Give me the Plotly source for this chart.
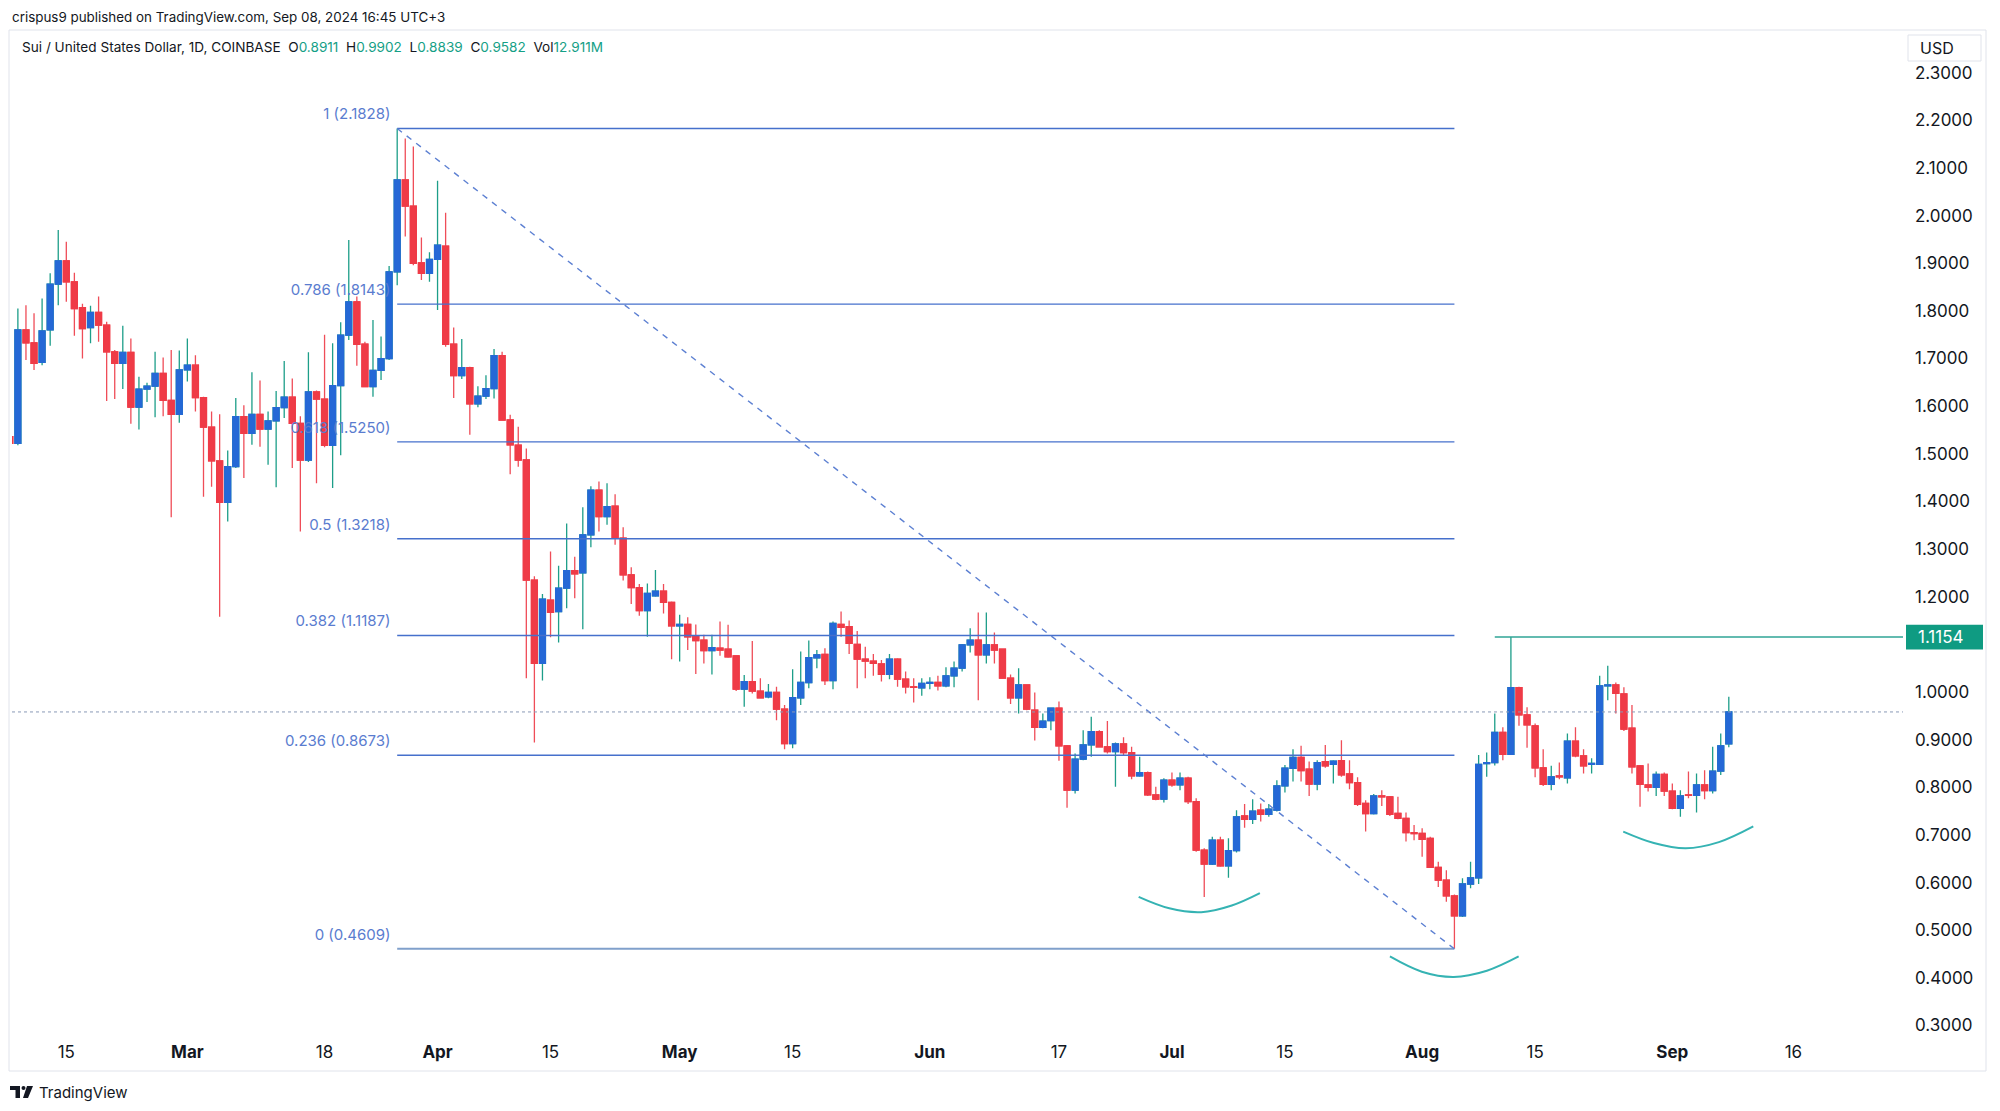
import pandas as pd
import plotly.graph_objects as go

# ---------------- data (daily OHLC, SUI/USD, Coinbase) ----------------
DATES = pd.date_range("2024-02-08", "2024-09-08", freq="D")

OPEN = [
    # Feb 8-29
    1.536, 1.522, 1.760, 1.733, 1.692, 1.760, 1.856, 1.905, 1.861, 1.807, 1.765, 1.797, 1.770, 1.714, 1.690, 1.713,
    1.598, 1.636, 1.642, 1.669, 1.612, 1.583,
    # Mar
    1.676, 1.686, 1.618, 1.556, 1.485, 1.398, 1.473, 1.578, 1.543, 1.583, 1.552, 1.569, 1.597, 1.619, 1.564, 1.487,
    1.630, 1.615, 1.518, 1.643, 1.749, 1.819, 1.730, 1.641, 1.675, 1.700, 1.882, 2.075, 2.020, 1.901, 1.879,
    # Apr
    1.908, 1.936, 1.730, 1.664, 1.681, 1.605, 1.621, 1.637, 1.706, 1.571, 1.518, 1.487, 1.235, 1.060, 1.193, 1.169,
    1.218, 1.255, 1.250, 1.330, 1.424, 1.368, 1.390, 1.323, 1.246, 1.219, 1.171, 1.202, 1.212, 1.188,
    # May
    1.139, 1.142, 1.118, 1.109, 1.087, 1.092, 1.090, 1.076, 1.006, 1.022, 1.002, 0.990, 0.999, 0.964, 0.892, 0.988,
    1.020, 1.072, 1.079, 1.024, 1.142, 1.137, 1.100, 1.069, 1.065, 1.059, 1.037, 1.069, 1.027, 1.011, 1.009,
    # Jun
    1.018, 1.020, 1.013, 1.034, 1.050, 1.099, 1.109, 1.078, 1.099, 1.090, 1.029, 0.988, 1.015, 0.962, 0.926, 0.940,
    0.966, 0.887, 0.794, 0.859, 0.889, 0.917, 0.885, 0.875, 0.891, 0.873, 0.824, 0.831, 0.784, 0.775,
    # Jul
    0.815, 0.805, 0.819, 0.770, 0.668, 0.639, 0.689, 0.635, 0.667, 0.740, 0.733, 0.752, 0.743, 0.752, 0.803, 0.840,
    0.863, 0.838, 0.807, 0.854, 0.848, 0.856, 0.828, 0.810, 0.766, 0.745, 0.782, 0.780, 0.745, 0.735, 0.705,
    # Aug
    0.703, 0.693, 0.632, 0.605, 0.572, 0.530, 0.597, 0.610, 0.850, 0.852, 0.915, 0.869, 1.009, 0.952, 0.929, 0.841,
    0.806, 0.824, 0.820, 0.897, 0.866, 0.848, 0.848, 1.013, 1.015, 0.996, 0.924, 0.845, 0.805, 0.800, 0.827,
    # Sep 1-8
    0.792, 0.756, 0.784, 0.783, 0.805, 0.793, 0.834, 0.8911,
]
HIGH = [
    1.540, 1.805, 1.812, 1.795, 1.826, 1.879, 1.970, 1.945, 1.880, 1.815, 1.811, 1.830, 1.777, 1.718, 1.769, 1.742,
    1.662, 1.649, 1.714, 1.702, 1.718, 1.717,
    1.742, 1.707, 1.620, 1.589, 1.583, 1.507, 1.617, 1.602, 1.671, 1.654, 1.589, 1.632, 1.695, 1.658, 1.579, 1.713,
    1.633, 1.750, 1.732, 1.776, 1.949, 1.830, 1.735, 1.781, 1.746, 1.894, 2.1828, 2.162, 2.145, 1.954, 1.923,
    2.073, 2.006, 1.765, 1.741, 1.683, 1.642, 1.665, 1.720, 1.714, 1.582, 1.557, 1.511, 1.243, 1.206, 1.295, 1.265,
    1.354, 1.284, 1.388, 1.432, 1.442, 1.438, 1.415, 1.346, 1.262, 1.227, 1.228, 1.256, 1.227, 1.190,
    1.162, 1.157, 1.142, 1.120, 1.120, 1.148, 1.141, 1.076, 1.036, 1.107, 1.029, 1.017, 1.011, 0.973, 1.048, 1.085,
    1.108, 1.088, 1.092, 1.148, 1.169, 1.150, 1.128, 1.095, 1.080, 1.067, 1.080, 1.071, 1.043, 1.029, 1.029,
    1.031, 1.034, 1.052, 1.064, 1.101, 1.134, 1.167, 1.167, 1.125, 1.090, 1.037, 1.050, 1.015, 0.999, 0.955, 0.966,
    0.980, 0.889, 0.871, 0.920, 0.948, 0.920, 0.939, 0.894, 0.905, 0.885, 0.864, 0.833, 0.801, 0.819,
    0.831, 0.831, 0.822, 0.777, 0.672, 0.696, 0.696, 0.693, 0.752, 0.765, 0.775, 0.766, 0.765, 0.815, 0.847, 0.880,
    0.887, 0.854, 0.857, 0.889, 0.857, 0.899, 0.857, 0.821, 0.773, 0.786, 0.794, 0.782, 0.780, 0.747, 0.721,
    0.714, 0.696, 0.644, 0.626, 0.575, 0.609, 0.644, 0.868, 0.873, 0.955, 0.926, 1.1154, 1.011, 0.968, 0.934, 0.880,
    0.845, 0.852, 0.913, 0.926, 0.880, 0.861, 1.034, 1.055, 1.020, 1.010, 0.973, 0.847, 0.850, 0.833, 0.831,
    0.808, 0.794, 0.833, 0.829, 0.836, 0.885, 0.913, 0.9902,
]
LOW = [
    1.518, 1.518, 1.697, 1.676, 1.686, 1.727, 1.812, 1.819, 1.748, 1.700, 1.732, 1.735, 1.611, 1.615, 1.636, 1.563,
    1.551, 1.609, 1.577, 1.579, 1.367, 1.565,
    1.652, 1.589, 1.410, 1.431, 1.158, 1.358, 1.470, 1.449, 1.519, 1.515, 1.477, 1.430, 1.575, 1.470, 1.337, 1.483,
    1.438, 1.514, 1.428, 1.497, 1.739, 1.685, 1.641, 1.620, 1.655, 1.697, 1.854, 1.956, 1.896, 1.865, 1.861,
    1.802, 1.725, 1.617, 1.657, 1.540, 1.598, 1.615, 1.616, 1.571, 1.457, 1.473, 1.029, 0.894, 1.024, 1.115, 1.104,
    1.176, 1.197, 1.132, 1.304, 1.337, 1.351, 1.309, 1.234, 1.185, 1.160, 1.116, 1.200, 1.165, 1.069,
    1.064, 1.088, 1.038, 1.060, 1.037, 1.076, 1.072, 1.002, 0.969, 0.997, 0.987, 0.987, 0.941, 0.880, 0.882, 0.973,
    1.008, 1.050, 1.015, 1.006, 1.116, 1.080, 1.008, 1.029, 1.034, 1.022, 1.027, 1.011, 0.997, 0.978, 0.992,
    1.006, 1.003, 1.010, 1.010, 1.043, 1.083, 0.983, 1.060, 1.060, 1.029, 0.975, 0.955, 0.962, 0.898, 0.924, 0.920,
    0.856, 0.757, 0.787, 0.857, 0.864, 0.884, 0.871, 0.801, 0.866, 0.817, 0.822, 0.782, 0.773, 0.768,
    0.801, 0.794, 0.765, 0.665, 0.570, 0.637, 0.633, 0.610, 0.663, 0.715, 0.723, 0.728, 0.738, 0.749, 0.789, 0.812,
    0.812, 0.782, 0.794, 0.841, 0.808, 0.822, 0.796, 0.761, 0.707, 0.743, 0.761, 0.740, 0.733, 0.686, 0.689,
    0.654, 0.631, 0.591, 0.560, 0.4609, 0.528, 0.588, 0.597, 0.822, 0.846, 0.857, 0.868, 0.929, 0.883, 0.821, 0.803,
    0.794, 0.817, 0.808, 0.863, 0.829, 0.829, 0.847, 0.983, 0.955, 0.918, 0.829, 0.759, 0.791, 0.782, 0.782,
    0.754, 0.738, 0.777, 0.747, 0.775, 0.787, 0.826, 0.8839,
]
CLOSE = [
    1.522, 1.760, 1.733, 1.690, 1.758, 1.856, 1.905, 1.861, 1.805, 1.763, 1.797, 1.770, 1.714, 1.690, 1.713, 1.598,
    1.636, 1.642, 1.669, 1.612, 1.583, 1.676,
    1.686, 1.618, 1.556, 1.485, 1.398, 1.473, 1.578, 1.543, 1.583, 1.552, 1.569, 1.597, 1.619, 1.564, 1.487, 1.630,
    1.615, 1.518, 1.643, 1.749, 1.819, 1.730, 1.641, 1.675, 1.700, 1.882, 2.075, 2.020, 1.900, 1.879, 1.908,
    1.938, 1.730, 1.664, 1.681, 1.605, 1.621, 1.637, 1.706, 1.571, 1.519, 1.487, 1.235, 1.060, 1.195, 1.167, 1.218,
    1.255, 1.248, 1.330, 1.424, 1.368, 1.389, 1.323, 1.246, 1.219, 1.171, 1.207, 1.212, 1.188, 1.139,
    1.142, 1.116, 1.108, 1.087, 1.093, 1.088, 1.074, 1.006, 1.022, 1.002, 0.988, 0.999, 0.964, 0.892, 0.988, 1.020,
    1.072, 1.078, 1.024, 1.144, 1.136, 1.102, 1.069, 1.065, 1.060, 1.037, 1.069, 1.027, 1.011, 1.010, 1.018,
    1.020, 1.013, 1.034, 1.050, 1.099, 1.109, 1.078, 1.099, 1.088, 1.029, 0.988, 1.015, 0.964, 0.926, 0.939, 0.966,
    0.887, 0.794, 0.859, 0.889, 0.917, 0.885, 0.875, 0.891, 0.873, 0.824, 0.831, 0.784, 0.775, 0.815,
    0.805, 0.819, 0.770, 0.668, 0.639, 0.689, 0.635, 0.667, 0.738, 0.733, 0.750, 0.743, 0.754, 0.803, 0.840, 0.863,
    0.835, 0.807, 0.852, 0.845, 0.855, 0.826, 0.810, 0.764, 0.745, 0.782, 0.780, 0.743, 0.735, 0.705, 0.703,
    0.691, 0.632, 0.605, 0.572, 0.530, 0.597, 0.610, 0.848, 0.852, 0.915, 0.869, 1.009, 0.952, 0.931, 0.841, 0.806,
    0.822, 0.822, 0.897, 0.866, 0.845, 0.850, 1.013, 1.015, 0.997, 0.922, 0.843, 0.806, 0.800, 0.827, 0.792,
    0.756, 0.782, 0.783, 0.805, 0.793, 0.834, 0.887, 0.9582,
]

# Fibonacci retracement drawn from the Mar 27 high to the Aug 5 low
FIB_RATIOS = [1, 0.786, 0.618, 0.5, 0.382, 0.236, 0]
FIB_PRICES = [2.1828, 1.8143, 1.5250, 1.3218, 1.1187, 0.8673, 0.4609]
FIB_START, FIB_END = "2024-03-27", "2024-08-05"

RESIST_PRICE = 1.1154
RESIST_START = "2024-08-10"

LAST_O, LAST_H, LAST_L, LAST_C, LAST_VOL = "0.8911", "0.9902", "0.8839", "0.9582", "12.911M"

# rounded "cup" sketches
ARC1_X = ["2024-06-26 21:00", "2024-06-30 16:00", "2024-07-04 15:00", "2024-07-08 10:00", "2024-07-11 21:30"]
ARC1_Y = [0.570, 0.546, 0.538, 0.552, 0.578]
ARC2_X = ["2024-07-28 00:15", "2024-07-31 23:00", "2024-08-04 22:00", "2024-08-09 00:30", "2024-08-12 23:00"]
ARC2_Y = [0.445, 0.413, 0.402, 0.415, 0.445]
ARC3_X = ["2024-08-25 22:00", "2024-08-29 17:00", "2024-09-02 16:00", "2024-09-06 18:30", "2024-09-11 00:45"]
ARC3_Y = [0.707, 0.683, 0.672, 0.685, 0.718]

XTICK_VALS = ["2024-02-15", "2024-03-01", "2024-03-18", "2024-04-01", "2024-04-15", "2024-05-01", "2024-05-15",
              "2024-06-01", "2024-06-17", "2024-07-01", "2024-07-15", "2024-08-01", "2024-08-15", "2024-09-01",
              "2024-09-16"]
XTICK_TEXT = ["15", "<b>Mar</b>", "18", "<b>Apr</b>", "15", "<b>May</b>", "15", "<b>Jun</b>", "17", "<b>Jul</b>",
              "15", "<b>Aug</b>", "15", "<b>Sep</b>", "16"]
# (1.1000 sits hidden under the 1.1154 price label in the reference)
YTICK_VALS = [0.3, 0.4, 0.5, 0.6, 0.7, 0.8, 0.9, 1.0, 1.2, 1.3, 1.4, 1.5, 1.6, 1.7, 1.8, 1.9, 2.0, 2.1, 2.2, 2.3]

assert len(OPEN) == len(HIGH) == len(LOW) == len(CLOSE) == len(DATES)

# ---------------- geometry (page pixels; browser body has an 8px margin) ----------------
OFF = 8
W, H = 2000 - 2 * OFF, 1111 - 2 * OFF
PL, PR, PT, PB = 12, 1903, 30, 1036          # plot area in page pixels
ML, MT = PL - OFF, PT - OFF
MR, MB = W - (PR - OFF), H - (PB - OFF)
PW, PH = PR - PL, PB - PT
X_RANGE = ["2024-02-08 06:30", "2024-09-29 14:00"]
Y_RANGE = [0.278, 2.3896]

FONT = "Inter, Roboto, Arial, sans-serif"
TXT = "#131722"
UP_BODY, DN_BODY = "#2568d6", "#ef3b47"
UP_WICK, DN_WICK = "#1d9e89", "#ef4d58"
FIB_COLOR, FIB0_COLOR, FIB_TEXT = "#4670cc", "#80a0cb", "#5a7ccf"
TEAL = "#35b3b3"
GREEN = "#0f9b82"


def X(px):
    return (px - PL) / PW


def Y(py):
    return (PB - py) / PH


fig = go.Figure()

# fib labels (drawn beneath the candles, like the reference)
label_x = [pd.Timestamp(FIB_START) - pd.Timedelta(hours=20)] * len(FIB_RATIOS)
fig.add_trace(go.Scatter(
    x=label_x, y=[p + 0.027 for p in FIB_PRICES], mode="text",
    text=[f"{r:g} ({p:.4f})" for r, p in zip(FIB_RATIOS, FIB_PRICES)],
    textposition="middle left", textfont=dict(family=FONT, size=15, color=FIB_TEXT),
    hoverinfo="skip", showlegend=False,
))

# cup sketches
for ax, ay in [(ARC1_X, ARC1_Y), (ARC2_X, ARC2_Y), (ARC3_X, ARC3_Y)]:
    fig.add_trace(go.Scatter(x=ax, y=ay, mode="lines", line=dict(color=TEAL, width=2, shape="spline"),
                             hoverinfo="skip", showlegend=False))

# candles: wicks (full range) + bodies (open/close range)
fig.add_trace(go.Candlestick(
    x=DATES, open=OPEN, high=HIGH, low=LOW, close=CLOSE,
    increasing=dict(line=dict(color=UP_WICK, width=1.3), fillcolor=UP_BODY),
    decreasing=dict(line=dict(color=DN_WICK, width=1.3), fillcolor=DN_BODY),
    hoverinfo="skip", showlegend=False,
))
fig.add_trace(go.Candlestick(
    x=DATES, open=OPEN, close=CLOSE,
    high=[max(o, c) for o, c in zip(OPEN, CLOSE)], low=[min(o, c) for o, c in zip(OPEN, CLOSE)],
    increasing=dict(line=dict(color=UP_BODY, width=1.3), fillcolor=UP_BODY),
    decreasing=dict(line=dict(color=DN_BODY, width=1.3), fillcolor=DN_BODY),
    hoverinfo="skip", showlegend=False,
))

shapes = []
for r, p in zip(FIB_RATIOS, FIB_PRICES):
    shapes.append(dict(type="line", xref="x", yref="y", x0=FIB_START, x1=FIB_END, y0=p, y1=p,
                       line=dict(color=FIB0_COLOR if r == 0 else FIB_COLOR, width=2 if r == 0 else 1.4)))
shapes.append(dict(type="line", xref="x", yref="y", x0=FIB_START, y0=FIB_PRICES[0], x1=FIB_END, y1=FIB_PRICES[-1],
                   line=dict(color="#5d80d2", width=1.4, dash="6px,6px")))
shapes.append(dict(type="line", xref="x", yref="y", x0=RESIST_START, x1=X_RANGE[1], y0=RESIST_PRICE,
                   y1=RESIST_PRICE, line=dict(color="#2fa596", width=1.5)))
shapes.append(dict(type="line", xref="paper", yref="y", x0=0, x1=1, y0=float(LAST_C), y1=float(LAST_C),
                   line=dict(color="#8a99b6", width=1, dash="dot")))
shapes.append(dict(type="rect", xref="paper", yref="paper", x0=X(9), x1=X(1986), y0=Y(1071), y1=Y(30),
                   line=dict(color="#e0e3eb", width=1), layer="below"))
shapes.append(dict(type="rect", xref="paper", yref="paper", x0=X(1908), x1=X(1981), y0=Y(61), y1=Y(35),
                   line=dict(color="#e0e3eb", width=1), fillcolor="white"))
shapes.append(dict(type="rect", xref="paper", yref="y", x0=X(1906), x1=X(1983),
                   y0=RESIST_PRICE - 0.026, y1=RESIST_PRICE + 0.026, line=dict(width=0), fillcolor=GREEN))
# TradingView logo (simplified)
shapes += [
    dict(type="rect", xref="paper", yref="paper", x0=X(10), x1=X(20), y0=Y(1090), y1=Y(1086),
         line=dict(width=0), fillcolor=TXT),
    dict(type="rect", xref="paper", yref="paper", x0=X(15.5), x1=X(20), y0=Y(1098), y1=Y(1086),
         line=dict(width=0), fillcolor=TXT),
    dict(type="circle", xref="paper", yref="paper", x0=X(21.5), x1=X(25.5), y0=Y(1090), y1=Y(1086),
         line=dict(width=0), fillcolor=TXT),
    dict(type="path", xref="paper", yref="paper",
         path=f"M {X(27)} {Y(1086)} L {X(33)} {Y(1086)} L {X(28)} {Y(1098)} L {X(23)} {Y(1098)} Z",
         line=dict(width=0), fillcolor=TXT),
]

G = "#15a086"
legend_txt = (
    "Sui / United States Dollar, 1D, COINBASE\u00a0\u00a0"
    f"O<span style='color:{G}'>{LAST_O}</span>\u00a0\u00a0"
    f"H<span style='color:{G}'>{LAST_H}</span>\u00a0\u00a0"
    f"L<span style='color:{G}'>{LAST_L}</span>\u00a0\u00a0"
    f"C<span style='color:{G}'>{LAST_C}</span>\u00a0\u00a0"
    f"Vol<span style='color:{G}'>{LAST_VOL}</span>"
)

annotations = [
    dict(xref="paper", yref="paper", x=X(10), y=Y(17), xanchor="left", yanchor="middle", showarrow=False,
         text="crispus9 published on TradingView.com, Sep 08, 2024 16:45 UTC+3",
         font=dict(family=FONT, size=13.4, color=TXT)),
    dict(xref="paper", yref="paper", x=X(20), y=Y(47), xanchor="left", yanchor="middle", showarrow=False,
         text=legend_txt, font=dict(family=FONT, size=13.6, color=TXT)),
    dict(xref="paper", yref="paper", x=X(1937), y=Y(48), xanchor="center", yanchor="middle", showarrow=False,
         text="USD", font=dict(family=FONT, size=16, color=TXT)),
    dict(xref="paper", yref="y", x=X(1941), y=RESIST_PRICE, xanchor="center", yanchor="middle", showarrow=False,
         text=f"{RESIST_PRICE:.4f}", font=dict(family=FONT, size=17, color="white")),
    dict(xref="paper", yref="paper", x=X(37), y=Y(1092), xanchor="left", yanchor="middle", showarrow=False,
         text="TradingView", font=dict(family=FONT, size=15, color=TXT)),
]

fig.update_layout(
    width=W, height=H, margin=dict(l=ML, r=MR, t=MT, b=MB, autoexpand=False),
    paper_bgcolor="white", plot_bgcolor="white",
    showlegend=False, shapes=shapes, annotations=annotations,
    font=dict(family=FONT, color=TXT),
    boxgap=0.25, boxgroupgap=0.02,
    xaxis=dict(type="date", range=X_RANGE, rangeslider=dict(visible=False), showgrid=False, zeroline=False,
               showline=False, tickmode="array", tickvals=XTICK_VALS, ticktext=XTICK_TEXT,
               tickfont=dict(family=FONT, size=17, color=TXT), ticks="", ticklabelstandoff=4),
    yaxis=dict(side="right", range=Y_RANGE, showgrid=False, zeroline=False, showline=False, tickmode="array",
               tickvals=YTICK_VALS, tickformat=".4f", tickfont=dict(family=FONT, size=17, color=TXT), ticks="",
               ticklabelstandoff=11),
)

fig.write_html("out.html", config={"displayModeBar": False})
